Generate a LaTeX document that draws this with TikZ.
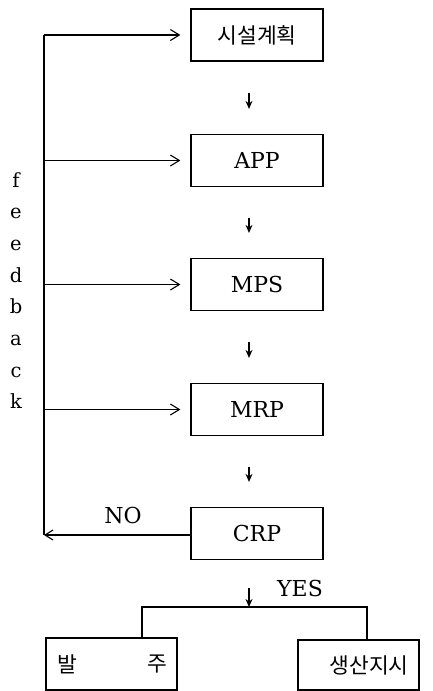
\documentclass[tikz,border=0pt]{standalone}
\usepackage{fontspec}
\setmainfont{DejaVu Serif}
\newfontfamily\kr{Noto Sans CJK KR}
\usetikzlibrary{arrows.meta}
\begin{document}
\begin{tikzpicture}[x=1pt,y=-1pt,line width=1.2pt,
  box/.style={draw,rectangle,minimum width=132pt,minimum height=52pt,inner sep=0pt,
    font=\fontsize{22}{26}\selectfont},
  krtext/.style={font=\kr\fontsize{21.5}{24}\selectfont},
  flow/.style={-{Stealth[length=8pt,width=7pt]},line width=1.3pt,shorten <=31pt,shorten >=25pt},
  feed/.style={-{Straight Barb[length=9pt,width=11pt,line width=1.1pt]},shorten >=10pt},
  lbl/.style={font=\fontsize{22}{26}\selectfont,inner sep=0pt},
  fbl/.style={font=\fontsize{19.5}{24}\selectfont,inner sep=0pt,anchor=base}]
\useasboundingbox (0,0) rectangle (433,691);

% main process column
\node[box] (plan) at (257,35)    {\kr\fontsize{21.5}{24}\selectfont 시설계획};
\node[box] (app)  at (257,160.5) {APP};
\node[box] (mps)  at (257,284.5) {MPS};
\node[box] (mrp)  at (257,409.5) {MRP};
\node[box] (crp)  at (257,533.5) {CRP};

% output boxes
\node[box,minimum width=131pt] (order) at (111.5,664) {};
\node[krtext] at (67,664) {발};
\node[krtext] at (157,664) {주};
\node[box,minimum width=121pt,minimum height=50pt] (work) at (358.5,665) {};
\node[krtext] at (369,665) {생산지시};

% downward flow arrows, set slightly left of the box centres
\draw[flow] ([xshift=-8pt]plan.south) -- ([xshift=-8pt]app.north);
\draw[flow] ([xshift=-8pt]app.south) -- ([xshift=-8pt]mps.north);
\draw[flow] ([xshift=-8pt]mps.south) -- ([xshift=-8pt]mrp.north);
\draw[flow] ([xshift=-8pt]mrp.south) -- ([xshift=-8pt]crp.north);

% YES branch to the two outputs
\coordinate (split) at (249,607);
\draw[flow,shorten <=28pt,shorten >=0pt] ([xshift=-8pt]crp.south) -- (split);
\node[lbl] (yes) at (300,588) {YES};
\draw ([xshift=30.5pt]order.north) |- (split) -| ([xshift=8.5pt]work.north);

% NO branch: feedback loop
\coordinate (fbot) at (44,535);
\coordinate (ftop) at (44,35);
\draw[-{Straight Barb[length=8pt,width=10pt,line width=1.1pt]}] (crp.west |- fbot) -- (fbot);
\node[lbl] (no) at (123,515) {NO};
\draw (fbot) -- (ftop);
\draw[feed] (ftop) -- (plan.west);
\draw[feed] (ftop |- app.west) -- (app.west);
\draw[feed] (ftop |- mps.west) -- (mps.west);
\draw[feed] (ftop |- mrp.west) -- (mrp.west);

% vertical "feedback" label
\foreach \ch [count=\i from 0] in {f,e,e,d,b,a,c,k}
  \node[fbl] (fb\i) at (16,187+31.7*\i) {\ch};
\end{tikzpicture}
\end{document}
